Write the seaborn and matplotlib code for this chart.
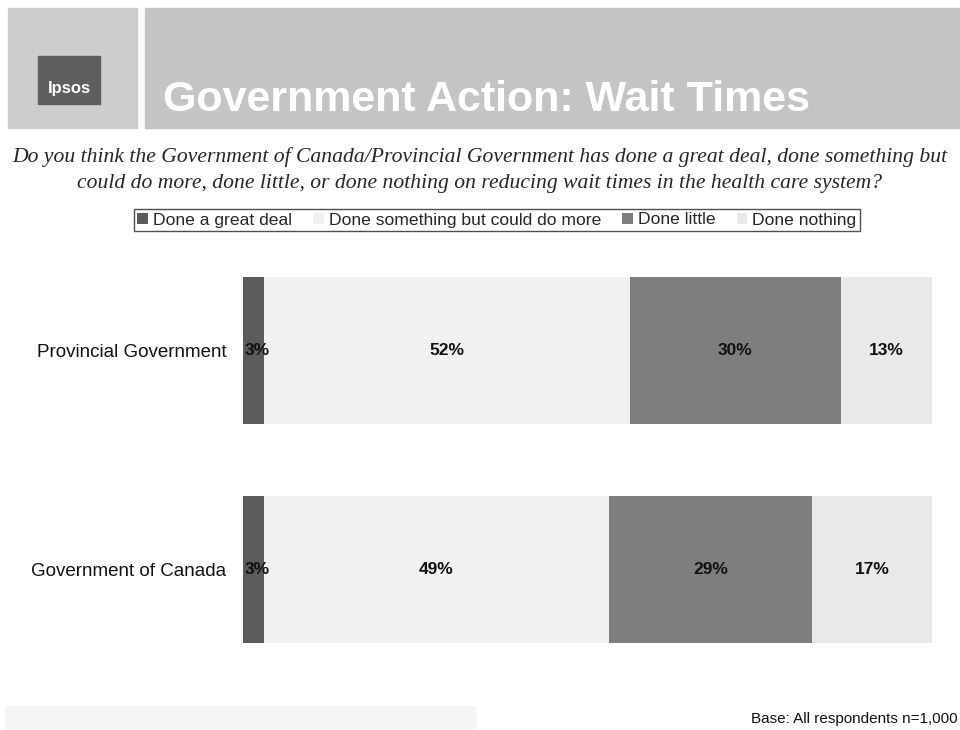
import numpy as np
import pandas as pd
import matplotlib
matplotlib.use("Agg")
import matplotlib.pyplot as plt
import seaborn as sns
from matplotlib.patches import Patch, Rectangle

# ------------------------------------------------------------------
# Data
# ------------------------------------------------------------------
groups = ["Provincial Government", "Government of Canada"]
responses = ["Done a great deal", "Done something but could do more",
             "Done little", "Done nothing"]
great_deal = [3, 3]
something = [52, 49]
little = [30, 29]
nothing = [13, 17]

colors = ["#5b5b5b", "#f1f1f1", "#7e7e7e", "#e9e9e9"]

values = np.array([great_deal, something, little, nothing])  # rows = responses
cum = values.cumsum(axis=0)

# ------------------------------------------------------------------
# Figure
# ------------------------------------------------------------------
sns.set_theme(style="white")
plt.rcParams["font.family"] = ["Liberation Sans", "DejaVu Sans"]

fig = plt.figure(figsize=(9.6, 7.3), dpi=100)

# header band
fig.patches.append(Rectangle((145 / 960, 1 - 128 / 730), 815 / 960, 120 / 730,
                             transform=fig.transFigure, color="#c4c4c4", zorder=0))
fig.patches.append(Rectangle((8 / 960, 1 - 128 / 730), 129 / 960, 120 / 730,
                             transform=fig.transFigure, color="#cdcdcd", zorder=0))
fig.patches.append(Rectangle((38 / 960, 1 - 104 / 730), 62 / 960, 48 / 730,
                             transform=fig.transFigure, color="#5e5e5e", zorder=1))
fig.text(69 / 960, 1 - 88 / 730, "Ipsos", color="white", fontsize=12,
         ha="center", va="center", fontweight="bold")
fig.text(163 / 960, 1 - 100 / 730, "Government Action: Wait Times", color="white",
         fontsize=31, fontweight="bold", ha="left", va="center")

# question
fig.text(0.5, 1 - 170 / 730,
         "Do you think the Government of Canada/Provincial Government has done a great deal, done something but\n"
         "could do more, done little, or done nothing on reducing wait times in the health care system?",
         ha="center", va="center", fontsize=15.6, style="italic",
         family=["Liberation Serif", "DejaVu Serif"], linespacing=1.55)

# chart axes
ax = fig.add_axes([243 / 960, 1 - 679 / 730, 689 / 960, 438 / 730])

for i in range(len(responses) - 1, -1, -1):
    df = pd.DataFrame({"group": groups, "value": cum[i]})
    sns.barplot(data=df, x="value", y="group", orient="h", color=colors[i],
                width=0.67, ax=ax, saturation=1, edgecolor="none", linewidth=0)

ax.set_xlim(0, cum[-1].max())
ax.set_ylim(1.5, -0.5)
ax.set_xlabel("")
ax.set_ylabel("")
ax.set_xticks([])
ax.tick_params(axis="y", length=0, pad=12, labelsize=13.5)
for lab in ax.get_yticklabels():
    lab.set_color("#111111")
sns.despine(ax=ax, left=True, bottom=True)

# percentage labels
for j in range(len(groups)):
    for i in range(len(responses)):
        start = cum[i][j] - values[i][j]
        center = start + values[i][j] / 2
        if values[i][j] < 5:
            center = start + 2.0
        ax.text(center, j, f"{values[i][j]}%", ha="center", va="center",
                fontsize=12.5, fontweight="bold", color="#111111")

# legend
handles = [Patch(facecolor=c, edgecolor="none") for c in colors]
leg = fig.legend(handles, responses, loc="center", ncol=4,
                 bbox_to_anchor=(497 / 960, 1 - 220 / 730), frameon=True,
                 fontsize=12.6, handlelength=0.6, handleheight=0.6,
                 handletextpad=0.3, columnspacing=1.2, borderpad=0.2,
                 fancybox=False)
leg.get_frame().set_edgecolor("#222222")
leg.get_frame().set_linewidth(1.0)

# footer
fig.patches.append(Rectangle((5 / 960, 1 - 728 / 730), 470 / 960, 22 / 730,
                             transform=fig.transFigure, color="#f5f5f5", zorder=0))
fig.text(958 / 960, 1 - 719 / 730, "Base: All respondents n=1,000",
         ha="right", va="center", fontsize=11, color="#111111")

fig.savefig("out.png", dpi=100, facecolor="white")
